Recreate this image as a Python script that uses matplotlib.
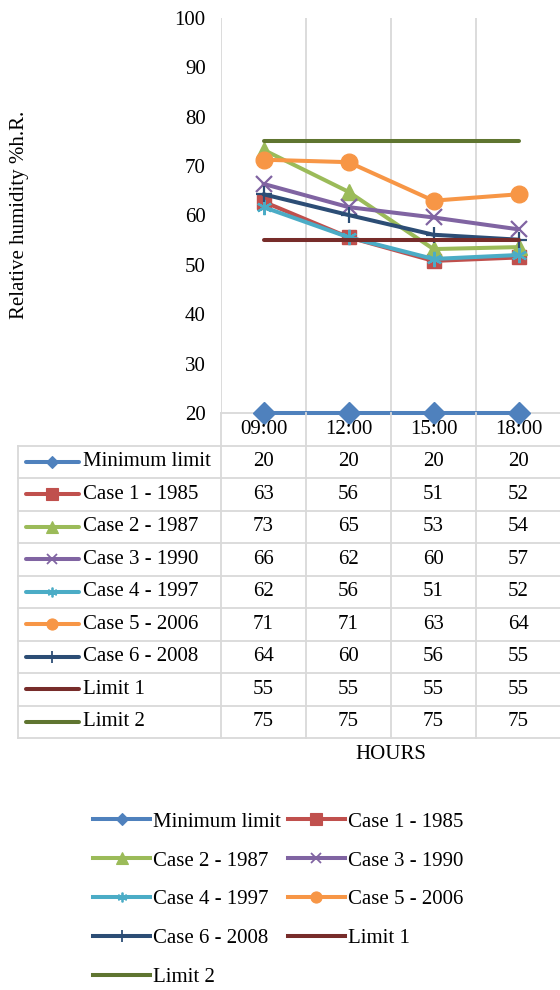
import matplotlib.pyplot as plt
from matplotlib.lines import Line2D

plt.rcParams['font.family'] = ['Liberation Serif', 'DejaVu Serif']

hours = ["09:00", "12:00", "15:00", "18:00"]
names = ["Minimum limit", "Case 1 - 1985", "Case 2 - 1987", "Case 3 - 1990",
         "Case 4 - 1997", "Case 5 - 2006", "Case 6 - 2008", "Limit 1", "Limit 2"]

minimum_limit = [20, 20, 20, 20]
case1 = [62.8, 55.6, 50.8, 51.5]
case2 = [73.3, 64.8, 53.2, 53.6]
case3 = [66.4, 61.7, 59.6, 57.2]
case4 = [61.7, 55.6, 51.2, 52.0]
case5 = [71.3, 70.8, 63.0, 64.3]
case6 = [64.3, 60.1, 56.1, 55.1]
limit1 = [55, 55, 55, 55]
limit2 = [75, 75, 75, 75]
series = [minimum_limit, case1, case2, case3, case4, case5, case6, limit1, limit2]

colors = ["#4F81BD", "#C0504D", "#9BBB59", "#8064A2", "#4BACC6",
          "#F79646", "#2C4D75", "#772C2A", "#5F7530"]
# marker, size in chart, edge width, size in legend/table
markers = [("D", 11, 1, 6), ("s", 10, 1, 9), ("^", 11, 1, 8), ("x", 11, 1.6, 7),
           ((6, 2, 0), 11, 1.6, 7), ("o", 12, 1, 8), ("+", 12, 1.6, 8), (None, 0, 1, 0), (None, 0, 1, 0)]

W, H = 560, 990
fig = plt.figure(figsize=(W / 100, H / 100), dpi=100)
FS = 15
grid_c = "#D9D9D9"

# main plot area (pixels)
left, right, top, bottom = 221, 561, 18, 413
ax = fig.add_axes([left / W, 1 - bottom / H, (right - left) / W, (bottom - top) / H])
x = list(range(len(hours)))
for vals, c, (m, ms, mew, _) in zip(series, colors, markers):
    ax.plot(x, vals, color=c, lw=2.9, marker=m, ms=ms, mew=mew, mec=c, mfc=c,
            solid_capstyle='round', clip_on=False)
ax.set_xlim(-0.5, 3.5)
ax.set_ylim(20, 100)
ax.set_yticks(range(20, 101, 10))
ax.tick_params(axis='y', length=0, pad=11, labelsize=FS, colors='#000000')
ax.set_xticks([])
for b in [-0.5, 0.5, 1.5, 2.5, 3.5]:
    ax.axvline(b, color=grid_c, lw=1.3, zorder=0)
for s in ['top', 'right', 'left']:
    ax.spines[s].set_visible(False)
ax.spines['bottom'].set_color(grid_c)
ax.spines['bottom'].set_linewidth(1.3)
ax.spines['bottom'].set_zorder(0)
ax.patch.set_alpha(0)

fig.text(20 / W, 1 - 215 / H, "Relative humidity %h.R.", rotation=90,
         ha='center', va='center', fontsize=FS)

# data table below the plot
t_left, t_bottom = 18, 738
col_px = (right - left) / 4
x0 = -0.5 - (left - t_left) / col_px
tab = fig.add_axes([t_left / W, 1 - t_bottom / H, (right - t_left) / W, (t_bottom - bottom) / H])
tab.set_xlim(x0, 3.5)
tab.set_ylim(10, 0)
tab.axis('off')
for r in range(1, 11):
    tab.plot([x0, 3.5], [r, r], color=grid_c, lw=1.3, clip_on=False)
tab.plot([x0, x0], [1, 10], color=grid_c, lw=1.3, clip_on=False)
for b in [-0.5, 0.5, 1.5, 2.5, 3.5]:
    tab.plot([b, b], [0, 10], color=grid_c, lw=1.3, clip_on=False)
for i, h in enumerate(hours):
    tab.text(i, 0.5, h, ha='center', va='center', fontsize=FS)
for r, (name, vals, c, (m, ms, mew, lms)) in enumerate(zip(names, series, colors, markers), start=1):
    yc = r + 0.5
    tab.plot([x0 + 0.09, x0 + 0.72], [yc, yc], color=c, lw=2.9, solid_capstyle='round')
    if m is not None:
        tab.plot([x0 + 0.4], [yc], color=c, marker=m, ms=lms, mew=mew * 0.8, mec=c, mfc=c)
    tab.text(x0 + 0.77, yc, name, ha='left', va='center', fontsize=FS)
    for i, v in enumerate(vals):
        tab.text(i, yc, f"{round(v)}", ha='center', va='center', fontsize=FS)
tab.text(1.5, 10.52, "HOURS", ha='center', va='center', fontsize=FS)

# legend at the bottom, filled row by row
handles = [Line2D([], [], color=c, lw=2.9, marker=m, ms=lms, mew=mew * 0.8, mec=c, mfc=c)
           for c, (m, ms, mew, lms) in zip(colors, markers)]
order = [0, 2, 4, 6, 8, 1, 3, 5, 7]
fig.legend([handles[i] for i in order], [names[i] for i in order],
           loc='upper left', bbox_to_anchor=(93 / W, 1 - 812 / H), ncol=2, frameon=False,
           fontsize=FS, handlelength=2.75, handletextpad=0.15, columnspacing=0.3,
           labelspacing=0.93, borderpad=0, borderaxespad=0)

fig.savefig("out.png", dpi=100)
